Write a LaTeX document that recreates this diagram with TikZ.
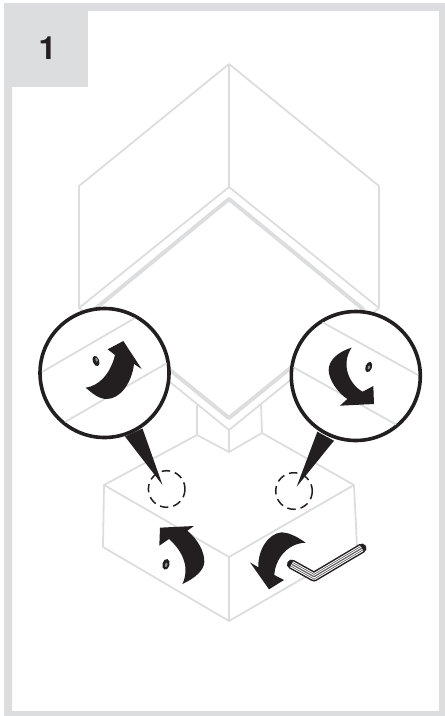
\documentclass[tikz,border=0pt]{standalone}
\usepackage{fontspec}
\setmainfont{TeX Gyre Heros}
\usepackage{tikz}
\usetikzlibrary{calc,positioning}
\definecolor{framegray}{HTML}{DCDDDE}
\definecolor{inkblack}{HTML}{231F20}

\begin{document}
\begin{tikzpicture}[x=1pt, y=-1pt,
  thinline/.style={draw=framegray, line width=1.8pt, line join=round},
  thickline/.style={draw=framegray, line width=4pt, line join=round},
  lens/.style={draw=inkblack, line width=3.6pt, fill=white},
  ringmark/.style={draw=inkblack, line width=1.5pt, dash pattern=on 8.5pt off 5pt},
  turnarrow/.style={fill=inkblack},
  screwhead/.style={fill=inkblack},
  screwdot/.style={fill=framegray!60!inkblack}]
\useasboundingbox (0,0) rectangle (445,716);

\fill[framegray, even odd rule] (4,3) rectangle (445,716) (12,11) rectangle (439,711);
\fill[framegray] (4,3) rectangle (88,87);
\node[font=\bfseries\fontsize{32}{32}\selectfont, text=inkblack] (stepnum) at (47.5,48.5) {1};

\coordinate (apex) at (229,64);
\coordinate (hexl) at (79,186);
\coordinate (hexr) at (379,186);
\coordinate (mid) at (229,187);
\coordinate (lowl) at (79,308);
\coordinate (lowr) at (379,308);
\coordinate (vee) at (229,430);
\coordinate (vtop) at (229,199);
\coordinate (vbot) at (229,418);
\coordinate (vleft) at (95,309);
\coordinate (vright) at (363,309);
\coordinate (stepl) at (197,405);
\coordinate (stepr) at (261,405);
\coordinate (footl) at (197,435);
\coordinate (footr) at (262,433);
\coordinate (foot) at (229,452);
\coordinate (boxl) at (104,485);
\coordinate (boxr) at (354,485);
\coordinate (boxm) at (229,557);
\coordinate (basel) at (103,547);
\coordinate (baser) at (357,547);
\coordinate (basem) at (229,621);

\draw[thinline] (lowl) -- (hexl) -- (apex) -- (hexr) -- (lowr) -- (mid) -- (lowl) -- (vee) -- (lowr);
\draw[thinline] (apex) -- (mid);
\draw[thickline] (vtop) -- (vright) -- (vbot) -- (vleft) -- cycle;
\draw[thinline] (stepl) -- (footl) -- (foot) -- (footr) -- (stepr);
\draw[thinline] (vee) -- (foot);
\draw[thinline] (footl) -- (boxl) -- (boxm) -- (boxr) -- (footr);
\draw[thinline] (boxl) -- (basel) -- (basem) -- (baser) -- (boxr);
\draw[thinline] (boxm) -- (basem);

\fill[inkblack] (125,436.5) -- (142.5,428.5) -- (162.5,485) -- cycle;
\fill[inkblack] (317.3,431.7) -- (334,440.7) -- (296.7,486.7) -- cycle;

\draw[lens] (104.5,373) coordinate (lensl) circle (64.5);
\draw[lens] (355.8,376) coordinate (lensr) circle (64.5);
\begin{scope}
\clip (lensl) circle (63);
\draw[thinline] (42,372) -- (135,318);
\draw[thinline] (65,422) -- (167,363);
\end{scope}
\begin{scope}
\clip (lensr) circle (63);
\draw[thinline] (322,322) -- (418,375);
\draw[thinline] (293,367) -- (397,425);
\end{scope}

\draw[ringmark] (166.7,489) coordinate (ringl) circle (18.3);
\draw[ringmark] (294,491) coordinate (ringr) circle (18.3);

\begin{scope}[shift={(20,290)}, scale=1/3]
\fill[turnarrow] (197,293) .. controls (235,288) and (270,255) .. (285,195) -- (263,178) -- (310,153) -- (365,237) -- (342,222)
  .. controls (335,280) and (300,327) .. (260,327) .. controls (235,327) and (215,308) .. (197,293) -- cycle;
\end{scope}
\begin{scope}[shift={(230,290)}, scale=1/3]
\fill[turnarrow] (365,173) .. controls (325,185) and (296,210) .. (296,240) .. controls (296,270) and (325,310) .. (352,327) -- (330,347) -- (432,342) -- (430,288) -- (398,305)
  .. controls (360,285) and (330,225) .. (365,173) -- cycle;
\end{scope}
\begin{scope}[shift={(90,470)}, scale=1/3]
\fill[turnarrow] (210,173) -- (312,168) -- (292,182) .. controls (325,210) and (343,245) .. (343,275) .. controls (343,300) and (315,325) .. (277,342)
  .. controls (298,300) and (285,250) .. (237,207) -- (208,227) -- cycle;
\fill[turnarrow] (647,218) .. controls (615,195) and (590,187) .. (575,187) .. controls (535,190) and (503,240) .. (505,292) -- (480,277) -- (537,358) -- (582,330) -- (553,315)
  .. controls (555,270) and (590,220) .. (647,218) -- cycle;
\end{scope}

\fill[screwhead] (96.0,361.0) ellipse [x radius=3.2, y radius=5.4, rotate=20];
\fill[screwdot] (96.6,359.8) ellipse [x radius=1.1, y radius=2, rotate=20];
\fill[screwhead] (368.7,367.0) ellipse [x radius=3.2, y radius=5.4, rotate=-20];
\fill[screwdot] (368.9,367.4) ellipse [x radius=1.1, y radius=2, rotate=-20];
\fill[screwhead] (166.0,564.3) ellipse [x radius=3.6, y radius=5.4, rotate=-15];
\fill[screwdot] (166.2,564.8) ellipse [x radius=1.2, y radius=2.2, rotate=-15];

\draw[inkblack, line width=9.6pt, line cap=round, line join=round] (291.7,564.3) coordinate (keyend) -- (314,576.7) coordinate (keybend) -- (361.7,548.3) coordinate (keytip);
\draw[white, line width=6.6pt, line join=round] (keyend) -- (keybend) -- (keytip);
\draw[inkblack!80, line width=4.6pt, line join=round] (keyend) -- (keybend) -- (keytip);
\draw[white, line width=3.2pt, line join=round] (keyend) -- (keybend) -- (keytip);
\draw[inkblack!70, line width=1.2pt, line join=round] (keyend) -- (keybend) -- (keytip);
\end{tikzpicture}
\end{document}
